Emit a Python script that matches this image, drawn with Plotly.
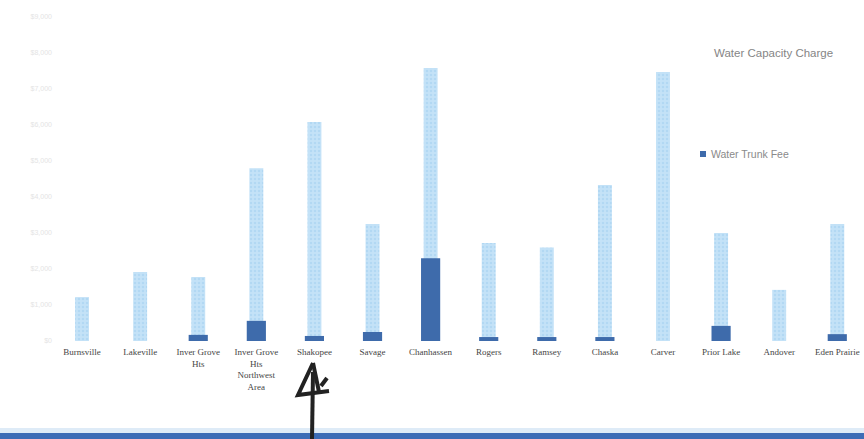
import plotly.graph_objects as go

# Cities compared
cities = [
    "Burnsville", "Lakeville", "Inver Grove<br>Hts", "Inver Grove<br>Hts<br>Northwest<br>Area",
    "Shakopee", "Savage", "Chanhassen", "Rogers", "Ramsey", "Chaska", "Carver",
    "Prior Lake", "Andover", "Eden Prairie",
]

# Water capacity charge per unit ($)
capacity_charge = [1220, 1920, 1780, 4800, 6080, 3250, 7580, 2720, 2600, 4330, 7470, 3000, 1420, 3250]

# Water trunk fee per unit ($)
trunk_fee = [0, 0, 170, 560, 140, 250, 2300, 110, 110, 110, 0, 420, 0, 190]

# Value axis ticks
y_ticks = [0, 1000, 2000, 3000, 4000, 5000, 6000, 7000, 8000, 9000]
y_tick_text = ["$0", "$1,000", "$2,000", "$3,000", "$4,000", "$5,000",
               "$6,000", "$7,000", "$8,000", "$9,000"]

W, H = 864, 439
ML, MR, MT, MB = 53, 0, 17, 98
PW, PH = W - ML - MR, H - MT - MB


def px(x):
    return (x - ML) / PW


def py(y):
    return (H - MB - y) / PH


fig = go.Figure()
fig.add_bar(
    x=list(range(len(cities))), y=capacity_charge, width=0.24,
    marker=dict(color="#c4e2f7", line=dict(width=0),
                pattern=dict(shape=".", fgcolor="#9fcdef", size=4, solidity=0.35)),
    name="Water Capacity Charge", showlegend=False,
)
fig.add_bar(
    x=list(range(len(cities))), y=trunk_fee, width=0.33,
    marker=dict(color="#3e6bab", line=dict(width=0)),
    name="Water Trunk Fee", showlegend=False,
)

shapes = [
    # legend swatch
    dict(type="rect", xref="paper", yref="paper",
         x0=px(700), x1=px(706), y0=py(157), y1=py(151),
         fillcolor="#3e6bab", line=dict(width=0)),
    # blue band along the page bottom
    dict(type="rect", xref="paper", yref="paper",
         x0=px(0), x1=px(W), y0=py(H), y1=py(433),
         fillcolor="#3c6cb6", line=dict(width=0), layer="above"),
    dict(type="rect", xref="paper", yref="paper",
         x0=px(0), x1=px(W), y0=py(433), y1=py(428),
         fillcolor="rgba(190,215,240,0.5)", line=dict(width=0)),
]

# handwritten "4" marker below Shakopee
strokes = [
    [(313, 363), (298, 395), (329, 391)],
    [(313, 363), (319, 392)],
    [(313, 372), (312, 439)],
    [(321, 386), (327, 378)],
]
for s in strokes:
    path = "M " + " L ".join(f"{px(x):.5f},{py(y):.5f}" for x, y in s)
    shapes.append(dict(type="path", xref="paper", yref="paper", path=path,
                       line=dict(color="#222222", width=4)))

annotations = [
    dict(text="Water Capacity Charge", xref="paper", yref="paper",
         x=px(773), y=py(53), xanchor="center", yanchor="middle", showarrow=False,
         font=dict(family="Liberation Sans", size=11.5, color="#858585")),
    dict(text="Water Trunk Fee", xref="paper", yref="paper",
         x=px(709), y=py(154), xanchor="left", yanchor="middle", showarrow=False,
         font=dict(family="Liberation Sans", size=10.5, color="#8a8a8a")),
]

fig.update_layout(
    width=W, height=H,
    margin=dict(l=ML, r=MR, t=MT, b=MB),
    paper_bgcolor="white", plot_bgcolor="white",
    barmode="overlay",
    shapes=shapes, annotations=annotations,
    xaxis=dict(range=[-0.5, 13.46], tickmode="array",
               tickvals=list(range(len(cities))), ticktext=cities,
               showgrid=False, zeroline=False, showline=False, ticks="",
               tickangle=0, ticklabelstandoff=4,
               tickfont=dict(family="Liberation Serif", size=9, color="#454545")),
    yaxis=dict(range=[0, 9000], tickvals=y_ticks, ticktext=y_tick_text,
               showgrid=False, zeroline=False, showline=False, ticks="",
               tickfont=dict(family="Liberation Sans", size=7, color="#e4e4e4")),
)

fig.write_html("out.html")
